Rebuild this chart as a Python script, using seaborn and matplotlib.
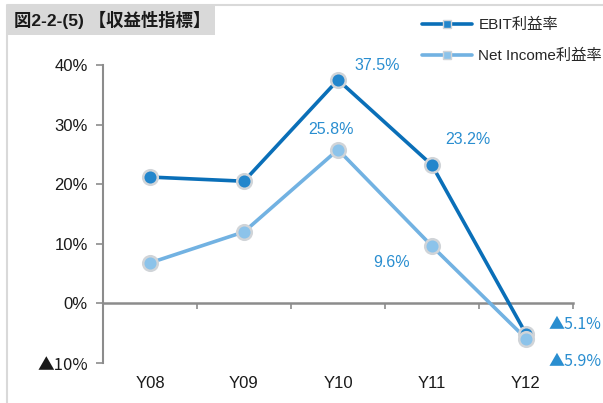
import matplotlib
matplotlib.use("Agg")
import matplotlib.pyplot as plt
import seaborn as sns
import pandas as pd
from matplotlib.patches import Rectangle
from matplotlib.lines import Line2D

categories = ["Y08", "Y09", "Y10", "Y11", "Y12"]
ebit = [21.2, 20.5, 37.5, 23.2, -5.1]
net_income = [6.8, 12.0, 25.8, 9.6, -5.9]
series_names = ["EBIT利益率", "Net Income利益率"]
yticks = [-10, 0, 10, 20, 30, 40]
ytick_labels = ["▲10%", "0%", "10%", "20%", "30%", "40%"]
title = "図2-2-(5) 【収益性指標】"

sns.set_theme(style="white")
FAM = ["Liberation Sans", "Noto Sans CJK JP", "DejaVu Sans"]
TRI = ["Noto Sans CJK JP", "DejaVu Sans"]
plt.rcParams["font.family"] = FAM

df = pd.DataFrame({
    "x": list(range(len(categories))) * 2,
    "v": ebit + net_income,
    "s": [series_names[0]] * 5 + [series_names[1]] * 5,
})
colors = {series_names[0]: "#0a6fb8", series_names[1]: "#72b2e2"}
mfc = {series_names[0]: "#2386cc", series_names[1]: "#8cc3ea"}

fig = plt.figure(figsize=(6.03, 4.03), dpi=100)
ax = fig.add_axes([103/603, 1-363/403, (573-103)/603, (363-65)/403])

sns.lineplot(data=df, x="x", y="v", hue="s", palette=colors, ax=ax,
             linewidth=2.6, legend=False, sort=False)
for name, vals in zip(series_names, [ebit, net_income]):
    ax.plot(range(len(vals)), vals, linestyle="none", marker="o", markersize=10.5,
            markerfacecolor=mfc[name], markeredgecolor="#d0d4d8", markeredgewidth=1.8, zorder=5)

ax.set_xlim(-0.5, 4.5)
ax.set_ylim(-10, 40)
ax.set_xlabel("")
ax.set_ylabel("")
for sp in ["top", "right", "bottom"]:
    ax.spines[sp].set_visible(False)
ax.spines["left"].set_color("#8c8c8c")
ax.spines["left"].set_linewidth(1.5)
ax.set_yticks(yticks)
ax.set_yticklabels(ytick_labels, fontsize=12, color="#1a1a1a")
for t in ax.get_yticklabels():
    if "▲" in t.get_text():
        t.set_family(TRI)
ax.tick_params(axis="y", direction="out", length=5, width=1.2, color="#8c8c8c", left=True, pad=6)
ax.set_xticks(range(len(categories)))
ax.set_xticklabels(categories, fontsize=12, color="#1a1a1a")
ax.tick_params(axis="x", length=0, bottom=True, pad=9)

sec = ax.secondary_xaxis(0.2)
sec.set_xticks([0.5, 1.5, 2.5, 3.5, 4.5])
sec.set_xticklabels([])
sec.tick_params(axis="x", direction="out", length=4, width=1.2, color="#8c8c8c")
sec.spines["bottom"].set_color("#8c8c8c")
sec.spines["bottom"].set_linewidth(1.8)

def fmt(v):
    return f"▲{abs(v):.1f}%" if v < 0 else f"{v:.1f}%"

lab_col = "#2a8ed0"
ann = [
    (0, 2, (39, 14)), (0, 3, (36, 26)), (0, 4, (49, 9)),
    (1, 2, (-7, 20)), (1, 3, (-40, -16)), (1, 4, (49, -23)),
]
data = [ebit, net_income]
for si, i, off in ann:
    v = data[si][i]
    fam = TRI if v < 0 else FAM
    ax.annotate(fmt(v), (i, v), xytext=off, textcoords="offset pixels", family=fam,
                ha="center", va="center", fontsize=11.5, color=lab_col, annotation_clip=False)

handles = [Line2D([], [], color=colors[n], lw=2.6, marker="s", markersize=6,
                  markerfacecolor=mfc[n], markeredgecolor="#d0d4d8") for n in series_names]
fig.legend(handles, series_names, loc="upper left", bbox_to_anchor=(408/603, 1-4/403),
           frameon=False, fontsize=11, handlelength=3.3, labelspacing=1.1, handletextpad=0.4)

# frame and title box
fig.add_artist(Line2D([8/603, 1], [1-5/403, 1-5/403], color="#d9d9d9", lw=1.5, transform=fig.transFigure))
fig.add_artist(Line2D([7/603, 7/603], [0, 1-5/403], color="#d9d9d9", lw=1.5, transform=fig.transFigure))
fig.add_artist(Rectangle((8/603, 1-35/403), (215-8)/603, 30/403, transform=fig.transFigure,
                         facecolor="#d9d9d9", edgecolor="none"))
fig.text(14/603, 1-20/403, title, fontsize=12.5, fontweight="bold", va="center", ha="left",
         family=FAM, color="#1a1a1a")

fig.savefig("out.png", dpi=100)
